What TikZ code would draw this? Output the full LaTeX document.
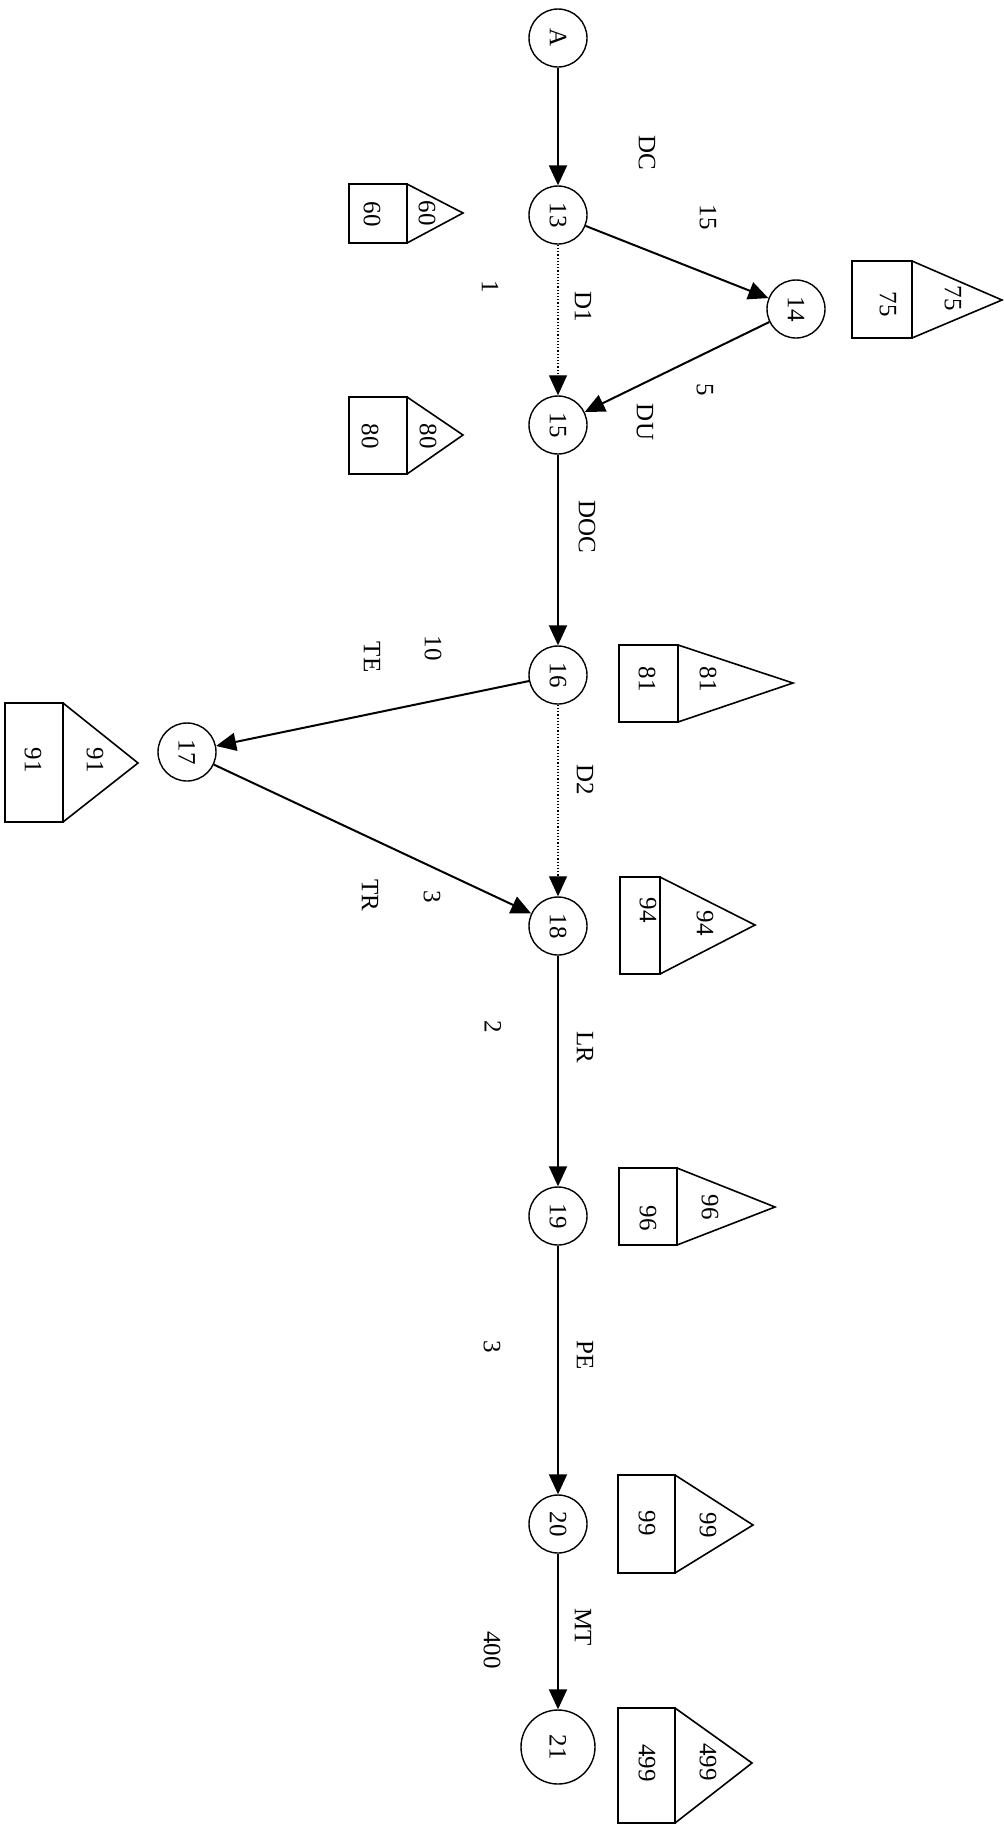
\documentclass[tikz,border=0pt]{standalone}
\usepackage{fontspec}
\setmainfont{Liberation Serif}
\usetikzlibrary{arrows.meta}
\begin{document}
\begin{tikzpicture}[x=0.5pt,y=-0.5pt,
  lbl/.style={inner sep=0pt,rotate=-90,font=\fontsize{12.5}{14}\selectfont},
  ev/.style={circle,draw,line width=0.7pt,minimum size=29pt,inner sep=0pt,font=\fontsize{12.5}{14}\selectfont},
  act/.style={line width=1pt,-{Triangle[length=10pt,width=9pt]}},
  dum/.style={line width=0.6pt,densely dotted,-{Triangle[length=10pt,width=9pt]}},
  boxline/.style={line width=0.8pt,line join=miter}]
\useasboundingbox (0,0) rectangle (1003,1833);
% events
\node[ev] (A)  at (558,38)   {\rotatebox{-90}{A}};
\node[ev] (n13) at (558,215) {\rotatebox{-90}{13}};
\node[ev] (n14) at (796,309) {\rotatebox{-90}{14}};
\node[ev] (n15) at (558,425) {\rotatebox{-90}{15}};
\node[ev] (n16) at (558,675) {\rotatebox{-90}{16}};
\node[ev] (n17) at (187,752) {\rotatebox{-90}{17}};
\node[ev] (n18) at (558,926) {\rotatebox{-90}{18}};
\node[ev] (n19) at (558,1216) {\rotatebox{-90}{19}};
\node[ev] (n20) at (558,1524) {\rotatebox{-90}{20}};
\node[ev,minimum size=37pt] (n21) at (558,1747) {\rotatebox{-90}{21}};
% activities
\draw[act] (A) -- (n13);
\draw[act] (n13) -- (n14);
\draw[act] (n14) -- (n15);
\draw[dum] (n13) -- (n15);
\draw[act] (n15) -- (n16);
\draw[act] (n16) -- (n17);
\draw[act] (n17) -- (n18);
\draw[dum] (n16) -- (n18);
\draw[act] (n18) -- (n19);
\draw[act] (n19) -- (n20);
\draw[act] (n20) -- (n21);
% activity labels
\node[lbl] (eDC)  at (647,153)  {DC};
\node[lbl] (e15)  at (708,217)  {15};
\node[lbl] (eD1)  at (583,307)  {D1};
\node[lbl] (e1)   at (490,287)  {1};
\node[lbl] (eDU)  at (645,422)  {DU};
\node[lbl] (e5)   at (705,390)  {5};
\node[lbl] (eDOC) at (587,527)  {DOC};
\node[lbl] (e10)  at (433,648)  {10};
\node[lbl] (eTE)  at (372,657)  {TE};
\node[lbl] (eD2)  at (585,780)  {D2};
\node[lbl] (eTR)  at (370,895)  {TR};
\node[lbl] (e3a)  at (432,897)  {3};
\node[lbl] (eLR)  at (585,1047) {LR};
\node[lbl] (e2)   at (493,1027) {2};
\node[lbl] (ePE)  at (585,1355) {PE};
\node[lbl] (e3b)  at (492,1347) {3};
\node[lbl] (eMT)  at (583,1627) {MT};
\node[lbl] (e400) at (492,1650) {400};
% time boxes
\foreach \n/\xa/\ya/\xb/\yb/\tx/\ty/\rx/\ry/\qx/\qy in {
  60/349/184/407/243/463/213/372/214/427/213,
  75/852/261/912/338/1002/300/888/304/953/298,
  80/349/397/407/474/463/435/370/436/428/436,
  81/619/645/678/722/793/683/647/679/708/679,
  91/5/703/63/822/138/763/33/760/95/760,
  94/620/877/660/974/755/925/648/910/705/923,
  96/619/1168/677/1245/775/1207/648/1218/710/1207,
  99/618/1475/675/1573/753/1525/647/1523/708/1525,
  499/618/1708/675/1823/752/1763/647/1763/708/1762}{
  \draw[boxline] (\xa,\ya) rectangle (\xb,\yb);
  \draw[boxline] (\xb,\ya) -- (\tx,\ty) -- (\xb,\yb);
  \node[lbl] (r\n) at (\rx,\ry) {\n};
  \node[lbl] (t\n) at (\qx,\qy) {\n};
}
\end{tikzpicture}
\end{document}
